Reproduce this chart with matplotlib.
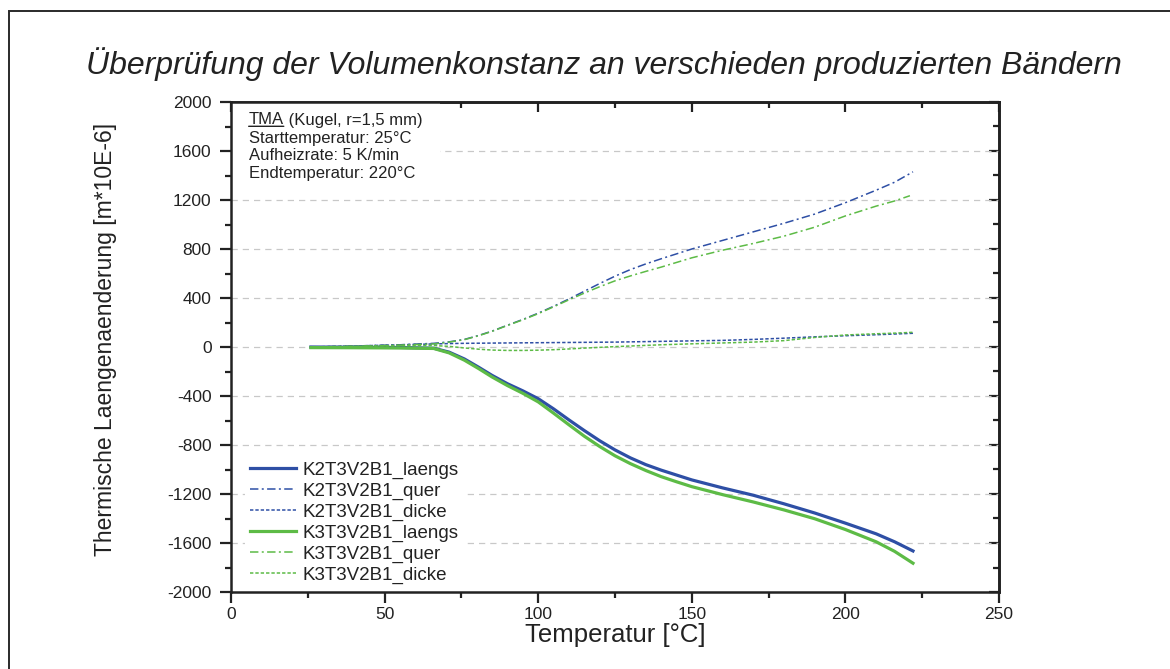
import matplotlib
matplotlib.use("Agg")
import matplotlib.pyplot as plt
from matplotlib.patches import Rectangle
from matplotlib.ticker import MultipleLocator

plt.rcParams['font.family'] = ['Liberation Sans', 'DejaVu Sans']
plt.rcParams['axes.unicode_minus'] = False

# ---------------- data ----------------
T = [26, 40, 55, 66, 71, 76, 80.6, 85, 90, 95, 100, 105, 110, 115, 120, 125,
     130, 135, 140, 145, 150, 160, 170, 180, 190, 200, 210, 216, 222]

k2_laengs = [0, -2, -4, -10, -42, -98, -165, -232, -300, -358, -422, -505, -595,
             -682, -765, -840, -905, -960, -1005, -1045, -1085, -1150, -1210,
             -1280, -1355, -1438, -1525, -1590, -1665]
k2_quer = [0, 8, 18, 30, 42, 62, 94, 130, 178, 225, 276, 332, 392, 455, 518, 578,
           632, 678, 720, 760, 800, 870, 940, 1010, 1085, 1178, 1280, 1345, 1430]
k2_dicke = [0, 8, 18, 25, 28, 30, 31, 32, 33, 34, 35, 36, 37, 38, 39, 40, 42, 44,
            46, 48, 50, 54, 62, 72, 83, 92, 100, 106, 112]
k3_laengs = [-5, -6, -8, -12, -48, -108, -176, -245, -315, -378, -448, -540, -635,
             -728, -812, -888, -952, -1008, -1058, -1100, -1140, -1205, -1265,
             -1330, -1402, -1490, -1590, -1668, -1765]
k3_quer = [0, 6, 15, 25, 40, 60, 92, 128, 176, 222, 272, 328, 385, 440, 492, 540,
           580, 617, 652, 690, 728, 790, 845, 905, 978, 1070, 1150, 1192, 1235]
T_k3_quer = T[:-1] + [221]
k3_dicke = [0, 5, 12, 12, 5, -8, -18, -25, -28, -28, -26, -22, -16, -9, -3, 3, 8,
            13, 18, 22, 26, 33, 40, 52, 78, 98, 108, 113, 120]

labels = ['K2T3V2B1_laengs', 'K2T3V2B1_quer', 'K2T3V2B1_dicke',
          'K3T3V2B1_laengs', 'K3T3V2B1_quer', 'K3T3V2B1_dicke']
xticks = [0, 50, 100, 150, 200, 250]
yticks = [-2000, -1600, -1200, -800, -400, 0, 400, 800, 1200, 1600, 2000]

title = 'Überprüfung der Volumenkonstanz an verschieden produzierten Bändern'
xlabel = 'Temperatur [°C]'
ylabel = 'Thermische Laengenaenderung [m*10E-6]'
info_lines = ['Starttemperatur: 25°C', 'Aufheizrate: 5 K/min', 'Endtemperatur: 220°C']

BLUE = '#2E4FA5'
GREEN = '#5DBB46'
INK = '#222222'

# ---------------- figure ----------------
W, H = 1170, 669
fig = plt.figure(figsize=(W / 100, H / 100), dpi=100)
ax = fig.add_axes([231 / W, 1 - 592 / H, (999 - 231) / W, (592 - 102) / H])

# outer border (extends past right/bottom of the image)
fig.patches.append(Rectangle((9 / W, -0.2), 2.0, 1.2 - 11 / H,
                             transform=fig.transFigure, fill=False,
                             ec='#2a2a2a', lw=1.4))

solid = dict(lw=2.3, ls='-')
dashdot = dict(lw=1.1, ls=(0, (5.5, 2.2, 1.3, 2.2)))
dashed = dict(lw=1.1, ls=(0, (2.2, 1.3)))

ax.plot(T, k2_laengs, color=BLUE, label=labels[0], zorder=3, **solid)
ax.plot(T, k2_quer, color=BLUE, label=labels[1], zorder=3, **dashdot)
ax.plot(T, k2_dicke, color=BLUE, label=labels[2], zorder=3, **dashed)
ax.plot(T, k3_laengs, color=GREEN, label=labels[3], zorder=3, **solid)
ax.plot(T_k3_quer, k3_quer, color=GREEN, label=labels[4], zorder=3, **dashdot)
ax.plot(T, k3_dicke, color=GREEN, label=labels[5], zorder=3, **dashed)

ax.set_xlim(0, 250)
ax.set_ylim(-2000, 2000)
ax.set_xticks(xticks)
ax.set_yticks(yticks)
ax.xaxis.set_minor_locator(MultipleLocator(25))
ax.yaxis.set_minor_locator(MultipleLocator(200))

# horizontal dashed grid (not at +-2000)
for yv in yticks[1:-1]:
    ax.axhline(yv, color='#c8c8c8', lw=0.9, ls=(0, (5, 4)), zorder=0.5)

for s in ax.spines.values():
    s.set_linewidth(1.8)
    s.set_color(INK)

ax.tick_params(axis='both', which='major', direction='out', length=8, width=1.6,
               labelsize=12.5, colors=INK, top=False, right=False)
ax.tick_params(axis='both', which='minor', direction='out', length=4.5, width=1.6,
               colors=INK, top=False, right=False)
ax.tick_params(axis='y', pad=6)
ax.tick_params(axis='x', pad=3)

# inward ticks on top and right
secx = ax.secondary_xaxis('top')
secx.set_xticks(xticks)
secx.xaxis.set_minor_locator(MultipleLocator(25))
secx.tick_params(which='major', direction='in', length=7, width=1.6, labeltop=False, colors=INK)
secx.tick_params(which='minor', direction='in', length=4, width=1.6, colors=INK)
secx.spines['top'].set_linewidth(1.8)
secy = ax.secondary_yaxis('right')
secy.set_yticks(yticks)
secy.yaxis.set_minor_locator(MultipleLocator(200))
secy.tick_params(which='major', direction='in', length=7, width=1.6, labelright=False, colors=INK)
secy.tick_params(which='minor', direction='in', length=4, width=1.6, colors=INK)
secy.spines['right'].set_linewidth(1.8)

ax.set_xlabel(xlabel, fontsize=18.5, color=INK)
ax.set_ylabel(ylabel, fontsize=16.5, color=INK)
ax.xaxis.set_label_coords(0.501, -0.064)
ax.yaxis.set_label_coords(-0.148, 0.515)

fig.text(604 / W, 1 - 64 / H, title, fontsize=23, style='italic',
         ha='center', va='center', color=INK)

# info box (white background hides grid)
ax.add_patch(Rectangle((0, 0.82), 0.272, 0.18, transform=ax.transAxes,
                       fc='white', ec='none', zorder=1))
tx = 0.023
fs_info = 12
t1 = ax.text(tx, 1 - (120 - 102) / 490, 'TMA', transform=ax.transAxes,
             fontsize=fs_info, va='center', ha='left', color=INK, zorder=4)
ax.annotate(' (Kugel, r=1,5 mm)', xy=(1, 0), xycoords=t1, va='bottom', ha='left',
            fontsize=fs_info, color=INK, zorder=4)
ax.annotate('', xy=(0, 0.08), xycoords=t1, xytext=(1, 0.08), textcoords=t1,
            arrowprops=dict(arrowstyle='-', lw=1.0, color=INK,
                            shrinkA=0, shrinkB=0), zorder=4)
for i, line in enumerate(info_lines):
    ax.text(tx, 1 - (138 + 17.7 * i - 102) / 490, line, transform=ax.transAxes,
            fontsize=fs_info, va='center', ha='left', color=INK, zorder=4)

leg = ax.legend(loc='lower left', bbox_to_anchor=(0.007, -0.012), fontsize=13.5,
                frameon=True, facecolor='white', edgecolor='none', framealpha=1,
                fancybox=False, handlelength=2.45, handletextpad=0.3,
                labelspacing=0.2, borderpad=0.3, borderaxespad=0.45)
leg.set_zorder(2)
for t in leg.get_texts():
    t.set_color(INK)

fig.savefig('out.png', dpi=100, facecolor='white')
